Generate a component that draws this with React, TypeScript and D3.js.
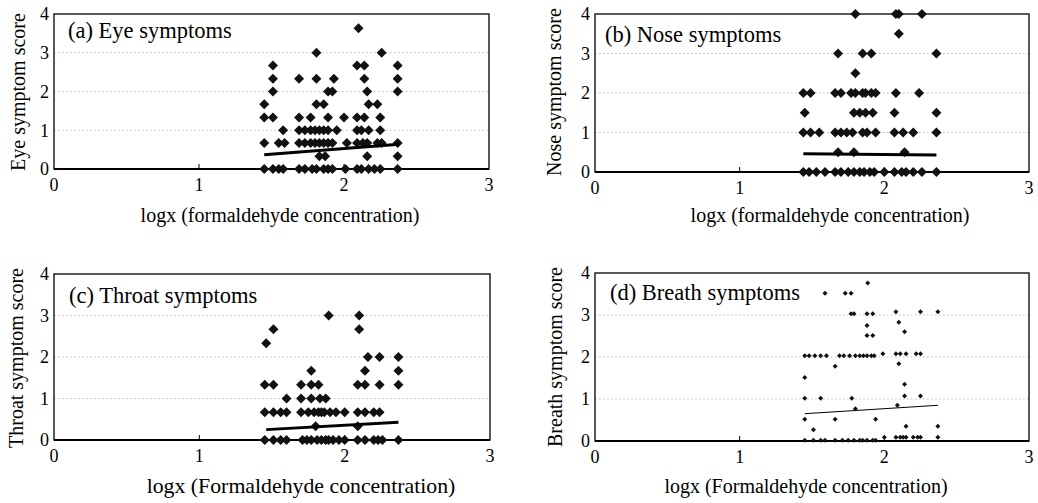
import * as d3 from "d3";
import { useEffect } from "react";

// score levels and the log concentrations (x) of the subjects at each level
const eyeRows: [number, number[]][] = [
  [3.63, [2.1]],
  [3, [1.81, 2.26]],
  [2.67, [1.51, 2.09, 2.14, 2.37]],
  [2.33, [1.51, 1.69, 1.81, 1.93, 2.14, 2.37]],
  [2, [1.51, 1.89, 1.92, 2.16, 2.37]],
  [1.67, [1.45, 1.81, 1.86, 2.17, 2.23]],
  [1.33, [1.45, 1.51, 1.69, 1.77, 1.89, 2.0, 2.09, 2.14, 2.25]],
  [1, [1.58, 1.69, 1.73, 1.77, 1.8, 1.83, 1.86, 1.89, 1.95, 2.09, 2.12, 2.17, 2.25]],
  [0.67, [1.45, 1.55, 1.59, 1.69, 1.73, 1.77, 1.8, 1.83, 1.86, 1.89, 1.92, 2.02, 2.09, 2.13, 2.16, 2.23, 2.26, 2.37]],
  [0.33, [1.83, 1.87, 2.16, 2.37]],
  [0, [1.45, 1.51, 1.55, 1.58, 1.69, 1.73, 1.78, 1.81, 1.86, 1.89, 1.92, 2.01, 2.09, 2.12, 2.17, 2.21, 2.25, 2.37]],
];

const noseRows: [number, number[]][] = [
  [4, [1.8, 2.08, 2.1, 2.26]],
  [3.5, [2.1]],
  [3, [1.68, 1.85, 1.91, 2.36]],
  [2.5, [1.8]],
  [2, [1.44, 1.49, 1.66, 1.7, 1.77, 1.8, 1.85, 1.87, 1.91, 1.94, 2.08, 2.24]],
  [1.5, [1.45, 1.79, 1.83, 1.87, 1.92, 2.07, 2.36]],
  [1, [1.44, 1.49, 1.55, 1.66, 1.7, 1.74, 1.78, 1.85, 1.88, 1.94, 2.07, 2.13, 2.2, 2.36]],
  [0.5, [1.68, 1.79, 2.14]],
  [0, [1.44, 1.48, 1.53, 1.59, 1.66, 1.7, 1.75, 1.79, 1.83, 1.86, 1.9, 1.93, 2.0, 2.07, 2.12, 2.15, 2.2, 2.26, 2.36]],
];

const throatRows: [number, number[]][] = [
  [3, [1.89, 2.1]],
  [2.67, [1.51, 2.1]],
  [2.33, [1.46]],
  [2, [2.16, 2.24, 2.37]],
  [1.67, [1.77, 2.14, 2.37]],
  [1.33, [1.45, 1.51, 1.7, 1.77, 1.82, 2.09, 2.14, 2.24, 2.37]],
  [1, [1.6, 1.7, 1.77, 1.83, 1.87]],
  [0.67, [1.45, 1.51, 1.56, 1.6, 1.7, 1.75, 1.79, 1.82, 1.84, 1.86, 1.9, 1.94, 2.0, 2.09, 2.14, 2.2, 2.24]],
  [0.33, [1.8, 2.09]],
  [0, [1.45, 1.51, 1.56, 1.6, 1.71, 1.74, 1.77, 1.81, 1.84, 1.87, 1.89, 1.92, 1.96, 2.0, 2.09, 2.14, 2.2, 2.23, 2.26, 2.37]],
];

const breathRows: [number, number[]][] = [
  [3.76, [1.885]],
  [3.52, [1.59, 1.73, 1.77]],
  [3.08, [2.08, 2.25, 2.37]],
  [3.03, [1.77, 1.79, 1.88, 1.92]],
  [2.83, [2.1]],
  [2.75, [1.88]],
  [2.6, [2.14]],
  [2.51, [1.88, 1.92]],
  [2.08, [1.99, 2.08, 2.11, 2.15, 2.22, 2.25]],
  [2.03, [1.45, 1.48, 1.52, 1.56, 1.6, 1.69, 1.72, 1.76, 1.8, 1.83, 1.855, 1.88, 1.91, 1.93]],
  [1.84, [2.1]],
  [1.78, [1.66]],
  [1.51, [1.45]],
  [1.35, [2.14]],
  [1.07, [2.14, 2.25]],
  [1.02, [1.45, 1.56, 1.775]],
  [0.85, [2.09]],
  [0.77, [1.8]],
  [0.52, [1.45, 1.66, 1.94]],
  [0.35, [2.15, 2.37]],
  [0.27, [1.51]],
  [0.09, [2.0, 2.08, 2.11, 2.13, 2.15, 2.2, 2.23, 2.25, 2.37]],
  [0.02, [1.45, 1.51, 1.56, 1.59, 1.66, 1.71, 1.75, 1.79, 1.83, 1.85, 1.88, 1.92, 1.94]],
];

// fitted lines [x, score]
const eyeFit: [number, number][] = [[1.45, 0.37], [2.38, 0.64]];
const noseFit: [number, number][] = [[1.44, 0.46], [2.36, 0.43]];
const throatFit: [number, number][] = [[1.46, 0.25], [2.37, 0.43]];
const breathFit: [number, number][] = [[1.45, 0.65], [2.37, 0.85]];

const xTicks = [0, 1, 2, 3];
const yTicks = [0, 1, 2, 3, 4];
const gridTicks = [1, 2, 3];

const panels = [
  {
    rows: eyeRows, fit: eyeFit, fitW: 3, size: 10,
    box: { l: 54, r: 489, t: 14, b: 169 },
    title: "(a) Eye symptoms", titleX: 68, titleY: 38,
    yLabel: "Eye symptom score", yLabX: 25, yLabY: 92,
    xLabel: "logx (formaldehyde concentration)", xLabX: 280, xLabY: 222, xLabSize: 20,
  },
  {
    rows: noseRows, fit: noseFit, fitW: 3, size: 10,
    box: { l: 595, r: 1029, t: 14, b: 172 },
    title: "(b) Nose symptoms", titleX: 605, titleY: 42,
    yLabel: "Nose symptom score", yLabX: 561, yLabY: 92,
    xLabel: "logx (formaldehyde concentration)", xLabX: 830, xLabY: 222, xLabSize: 20,
  },
  {
    rows: throatRows, fit: throatFit, fitW: 3, size: 10,
    box: { l: 54, r: 490, t: 274, b: 440 },
    title: "(c) Throat symptoms", titleX: 69, titleY: 303,
    yLabel: "Throat symptom score", yLabX: 23, yLabY: 358,
    xLabel: "logx (Formaldehyde concentration)", xLabX: 301, xLabY: 493, xLabSize: 21.8,
  },
  {
    rows: breathRows, fit: breathFit, fitW: 1, size: 5,
    box: { l: 595, r: 1029, t: 273, b: 441 },
    title: "(d) Breath symptoms", titleX: 610, titleY: 300,
    yLabel: "Breath symptom score", yLabX: 562, yLabY: 357,
    xLabel: "logx (Formaldehyde concentration)", xLabX: 806, xLabY: 493, xLabSize: 20,
  },
];

const font = "'Liberation Serif', 'DejaVu Serif', serif";

function Panel({ p }: { p: (typeof panels)[number] }) {
  const { box } = p;
  const x = d3.scaleLinear().domain([0, 3]).range([box.l, box.r]);
  const y = d3.scaleLinear().domain([0, 4]).range([box.b, box.t]);
  const side = p.size / Math.SQRT2;
  const diamond = d3.symbol(d3.symbolSquare, side * side)()!;
  const line = d3.line<[number, number]>().x(d => x(d[0])).y(d => y(d[1]));
  const points = p.rows.flatMap(([s, xs]) => xs.map(v => [v, s] as [number, number]));

  return (
    <g>
      {gridTicks.map(t => (
        <line key={t} x1={box.l} x2={box.r} y1={y(t)} y2={y(t)}
          stroke="#aaa" strokeWidth={0.8} strokeDasharray="1.5,2.5" />
      ))}
      <rect x={box.l} y={box.t} width={box.r - box.l} height={box.b - box.t}
        fill="none" stroke="#000" strokeWidth={1.3} />
      <line x1={box.l} x2={box.r} y1={box.b} y2={box.b} stroke="#000" strokeWidth={2} />
      {[1, 2].map(t => (
        <line key={t} x1={x(t)} x2={x(t)} y1={box.b} y2={box.b - 5} stroke="#000" strokeWidth={1} />
      ))}
      {xTicks.map(t => (
        <text key={t} x={x(t)} y={box.b + 22} textAnchor="middle" fontSize={18}>{t}</text>
      ))}
      {yTicks.map(t => (
        <text key={t} x={box.l - 5} y={y(t)} dy="0.35em" textAnchor="end" fontSize={18}>{t}</text>
      ))}
      {points.map((d, i) => (
        <path key={i} d={diamond} fill="#111"
          transform={`translate(${x(d[0])},${y(d[1])}) rotate(45)`} />
      ))}
      <path d={line(p.fit)!} fill="none" stroke="#000" strokeWidth={p.fitW} />
      <text x={p.titleX} y={p.titleY} fontSize={22.5}>{p.title}</text>
      <text x={p.xLabX} y={p.xLabY} textAnchor="middle" fontSize={p.xLabSize}>{p.xLabel}</text>
      <text transform={`translate(${p.yLabX},${p.yLabY}) rotate(-90)`} textAnchor="middle" fontSize={20}>
        {p.yLabel}
      </text>
    </g>
  );
}

export default function App() {
  useEffect(() => {
    document.body.style.margin = "0";
  }, []);
  return (
    <svg width={1038} height={503} style={{ display: "block", background: "#fff", fontFamily: font }}>
      {panels.map((p, i) => <Panel key={i} p={p} />)}
    </svg>
  );
}
